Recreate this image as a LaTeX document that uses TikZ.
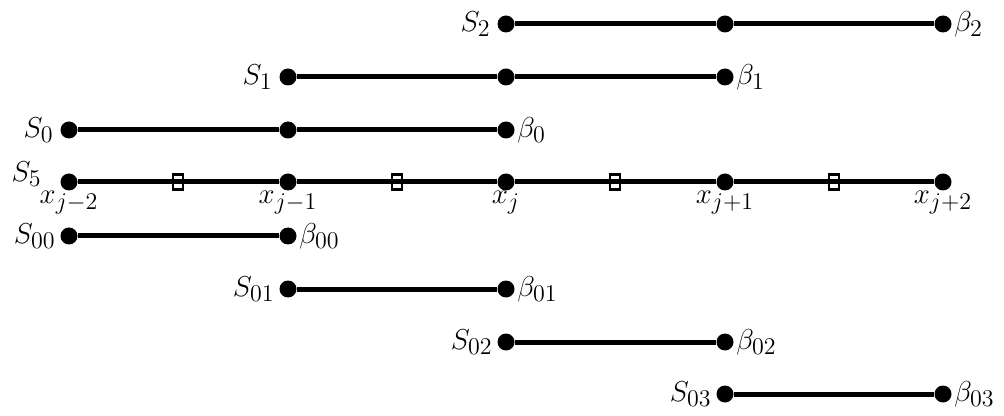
\documentclass[tikz,border=0pt]{standalone}
\DeclareMathSizes{15}{15}{12.5}{10}
\begin{document}
\begin{tikzpicture}[x=0.5pt,y=-0.5pt,
  dot/.style={circle,fill=black,inner sep=0pt,minimum size=8.5pt},
  seg/.style={line width=2.5pt},
  mk/.style={draw=black,line width=1.1pt,fill=none,inner sep=0pt,minimum width=5pt,minimum height=7.5pt},
  lab/.style={font=\fontsize{15}{18}\selectfont,inner sep=1pt}]
\useasboundingbox (0,0) rectangle (1004,416);
% row S2
\node[dot] (a1) at (506,24) {};
\node[dot] (a2) at (725,24) {};
\node[dot] (a3) at (943,24) {};
\draw[seg] (a1) -- (a2); \draw[seg] (a2) -- (a3);
\node[lab,anchor=east] (la) at ([xshift=-2pt]a1.west) {$S_2$};
\node[lab,anchor=west] (ra) at (a3.east) {$\beta_2$};
% row S1
\node[dot] (b1) at (288,77) {};
\node[dot] (b2) at (506,77) {};
\node[dot] (b3) at (725,77) {};
\draw[seg] (b1) -- (b2); \draw[seg] (b2) -- (b3);
\node[lab,anchor=east] (lb) at ([xshift=-2pt]b1.west) {$S_1$};
\node[lab,anchor=west] (rb) at (b3.east) {$\beta_1$};
% row S0
\node[dot] (c1) at (69,130) {};
\node[dot] (c2) at (288,130) {};
\node[dot] (c3) at (506,130) {};
\draw[seg] (c1) -- (c2); \draw[seg] (c2) -- (c3);
\node[lab,anchor=east] (lc) at ([xshift=-2pt]c1.west) {$S_0$};
\node[lab,anchor=west] (rc) at (c3.east) {$\beta_0$};
% row S5
\node[dot] (d1) at (69,182) {};
\node[dot] (d2) at (288,182) {};
\node[dot] (d3) at (506,182) {};
\node[dot] (d4) at (725,182) {};
\node[dot] (d5) at (943,182) {};
\node[mk] (m1) at (178,182) {};
\node[mk] (m2) at (397,182) {};
\node[mk] (m3) at (615,182) {};
\node[mk] (m4) at (834,182) {};
\draw[seg] (d1) -- (d2); \draw[seg] (d2) -- (d3);
\draw[seg] (d3) -- (d4); \draw[seg] (d4) -- (d5);
\node[lab,anchor=east] (ld) at ([xshift=-8pt,yshift=4pt]d1.west) {$S_5$};
\node[lab,anchor=north] (x1) at ([yshift=1pt]d1.south) {$x_{j-2}$};
\node[lab,anchor=north] (x2) at ([yshift=1pt]d2.south) {$x_{j-1}$};
\node[lab,anchor=north] (x3) at ([yshift=1pt]d3.south) {$x_{j}$};
\node[lab,anchor=north] (x4) at ([yshift=1pt]d4.south) {$x_{j+1}$};
\node[lab,anchor=north] (x5) at ([yshift=1pt]d5.south) {$x_{j+2}$};
% row S00
\node[dot] (e1) at (69,236) {};
\node[dot] (e2) at (288,236) {};
\draw[seg] (e1) -- (e2);
\node[lab,anchor=east] (le) at ([xshift=-1pt]e1.west) {$S_{00}$};
\node[lab,anchor=west] (re) at (e2.east) {$\beta_{00}$};
% row S01
\node[dot] (f1) at (288,289) {};
\node[dot] (f2) at (506,289) {};
\draw[seg] (f1) -- (f2);
\node[lab,anchor=east] (lf) at ([xshift=-1pt]f1.west) {$S_{01}$};
\node[lab,anchor=west] (rf) at (f2.east) {$\beta_{01}$};
% row S02
\node[dot] (g1) at (506,342) {};
\node[dot] (g2) at (725,342) {};
\draw[seg] (g1) -- (g2);
\node[lab,anchor=east] (lg) at ([xshift=-1pt]g1.west) {$S_{02}$};
\node[lab,anchor=west] (rg) at (g2.east) {$\beta_{02}$};
% row S03
\node[dot] (h1) at (725,394) {};
\node[dot] (h2) at (943,394) {};
\draw[seg] (h1) -- (h2);
\node[lab,anchor=east] (lh) at ([xshift=-1pt]h1.west) {$S_{03}$};
\node[lab,anchor=west] (rh) at (h2.east) {$\beta_{03}$};
\end{tikzpicture}
\end{document}
